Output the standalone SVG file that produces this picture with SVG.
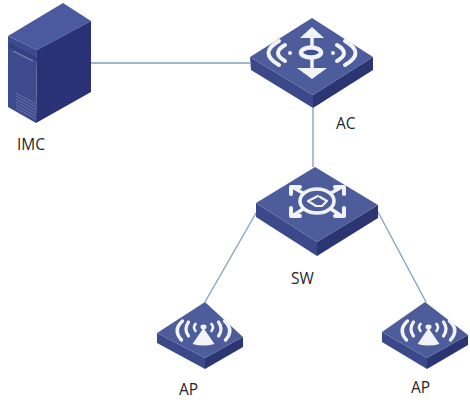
<svg xmlns="http://www.w3.org/2000/svg" width="470" height="400" viewBox="0 0 470 400">
<style>
text{font-family:"Open Sans","Liberation Sans",Arial,sans-serif;font-size:15.5px;fill:#26262b}
.top{fill:#4d5d9b}.left{fill:#3b4a8b}.right{fill:#2a3472}
.g{fill:none;stroke:#f2f3f8;stroke-linecap:round;stroke-linejoin:round}
.w{fill:#f2f3f8}
.c{fill:none;stroke:#7f9fbd;stroke-width:1.3}
</style>
<defs>
<filter id="s" x="-5%" y="-5%" width="110%" height="110%"><feGaussianBlur stdDeviation="0.4"/></filter>
<g id="apglyph">
<path class="w" d="M0 -8L11 8Q0 11 -11 8Z"/>
<ellipse class="w" cx="0" cy="-9" rx="3" ry="2.4"/>
<g class="g">
<path stroke-width="2.6" d="M-8 -12Q-11 -9 -8 -5"/><path stroke-width="2.6" d="M8 -12Q11 -9 8 -5"/>
<path stroke-width="3.2" d="M-15 -14Q-20 -7 -15 0"/><path stroke-width="3.2" d="M15 -14Q20 -7 15 0"/>
<path stroke-width="3.4" d="M-21 -15Q-31 -6 -22 4"/><path stroke-width="3.400" d="M21 -15Q31 -6 22 4"/>
</g>
</g>
</defs>
<g id="connectors">
<path class="c" d="M91 63H250"/>
<path class="c" d="M313 108V167"/>
<path class="c" d="M256 213L205 302"/>
<path class="c" d="M378 212L426 302"/>
</g>
<g id="IMC">
<g filter="url(#s)">
<path fill="#4b5a9e" d="M63 3L91 21L37 50L8 36Z"/>
<path fill="#2a3374" d="M91 21V92L36 123L37 50Z"/>
<path fill="#3d4b8e" d="M8 36L37 50L36 123L8 107Z"/>
<path fill="#333f80" d="M9 43L37 58V62L9 47Z"/>
<path stroke="#7b88b8" stroke-width="1.2" fill="none" d="M13 51L33 61"/>
<path fill="none" stroke="#6a78ac" stroke-width="0.9" d="M16 93L36 104M16 96L36 107M16 99L36 110M16 102L36 113M16 105L36 116M16 108L36 119"/>
</g>
<text x="17" y="150">IMC</text>
</g>
<g id="AC">
<g filter="url(#s)">
<path class="left" d="M250 57L313 95V108L251 70Z"/>
<path class="right" d="M373 57L313 95V108L373 70Z"/>
<path class="top" d="M312 18L373 57L313 95L250 57Z"/>
<path class="g" stroke-width="3.5" d="M312 32V72"/>
<path class="w" d="M312 27L324 38H300Z"/>
<path class="w" d="M312 79L297 68H327Z"/>
<ellipse cx="311" cy="52.500" rx="10" ry="5" fill="#3f4f90" stroke="#f2f3f8" stroke-width="4.500"/>
<circle class="w" cx="290" cy="53" r="2"/><circle class="w" cx="333" cy="53" r="2"/>
<g class="g" stroke-width="4">
<path d="M285 45Q271 53 285 61"/><path d="M337 45Q351 53 337 61"/>
<path d="M279 41Q258 53 279 65"/><path d="M345 41Q366 53 345 65"/>
</g>
</g>
<text x="336" y="129">AC</text>
</g>
<g id="SW">
<g filter="url(#s)">
<path class="left" d="M256 203L317 242V256L256 217Z"/>
<path class="right" d="M378 205L317 242V256L378 218Z"/>
<path class="top" d="M315 167L378 205L317 242L256 203Z"/>
<ellipse cx="317" cy="201" rx="17" ry="12" fill="none" stroke="#f2f3f8" stroke-width="3.500"/>
<g class="g" stroke-width="3.500">
<path d="M303 193L294 188M331 193L340 188M303 209L294 215M331 209L340 215"/>
<path stroke-width="4" d="M291 194V187H300M344 194V187H335M291 208V216H300M344 208V216H335"/>
<path stroke-width="2.200" d="M318 196L308 201L316 206M316 206H322L327 201L320 197"/>
</g>
</g>
<text x="291" y="284">SW</text>
</g>
<g id="AP1">
<g filter="url(#s)">
<path class="left" d="M157 333L205 358V369L157 343Z"/>
<path class="right" d="M243 337L205 358V369L243 347Z"/>
<path class="top" d="M205 302L243 337L205 358L157 333Z"/>
<use href="#apglyph" transform="translate(203.500 336)"/>
</g>
<text x="179" y="395">AP</text>
</g>
<g id="AP2">
<g filter="url(#s)">
<path class="left" d="M382 332L427 358V369L382 342Z"/>
<path class="right" d="M468 335L427 358V369L468 345Z"/>
<path class="top" d="M425 302L468 335L427 358L382 332Z"/>
<use href="#apglyph" transform="translate(428.500 336)"/>
</g>
<text x="411" y="393">AP</text>
</g>
</svg>
